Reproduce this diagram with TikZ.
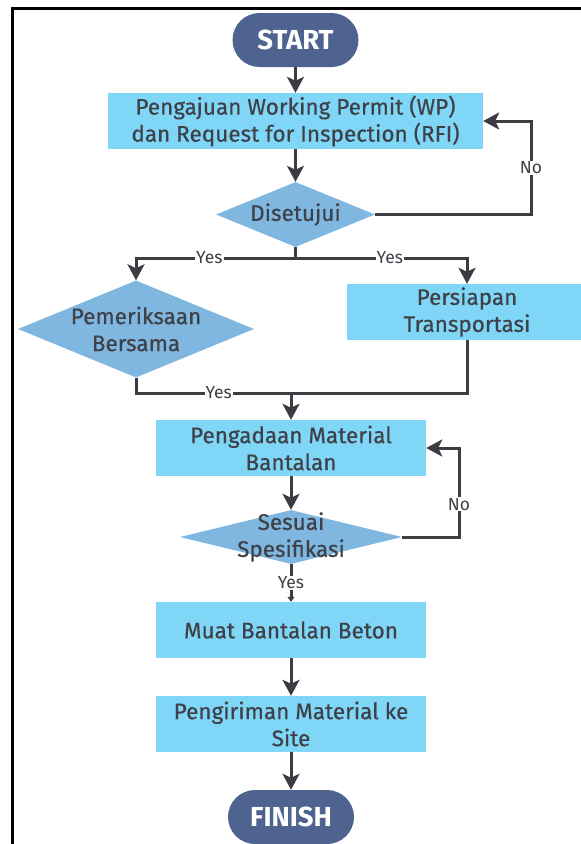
\documentclass[tikz,border=0pt]{standalone}
\usepackage{fontspec}
\setmainfont{Fira Sans}
\newfontfamily\medfont{Fira Sans}[FakeBold=0.5]
\usetikzlibrary{shapes.geometric,arrows.meta}
\definecolor{pill}{RGB}{78,99,143}
\definecolor{boxc}{RGB}{128,214,247}
\definecolor{diac}{RGB}{127,183,224}
\definecolor{txt}{RGB}{62,65,72}
\definecolor{linec}{RGB}{59,61,66}
\tikzset{
  pillst/.style={rectangle, rounded corners=27pt, fill=pill, text=white,
    font=\fontsize{27.5}{30}\selectfont\bfseries, minimum width=126pt, minimum height=54pt, inner sep=0pt},
  procst/.style={rectangle, fill=boxc, text=txt, font=\medfont\fontsize{22.5}{27}\selectfont,
    align=center, inner sep=0pt},
  decst/.style={diamond, fill=diac, inner sep=0pt},
  dtext/.style={text=txt, font=\medfont\fontsize{22.5}{27}\selectfont, align=center},
  arr/.style={draw=linec, line width=3pt, -{Stealth[length=16pt,width=17pt,inset=4pt]}},
  smallarr/.style={draw=linec, line width=3pt, -{Triangle[length=5pt,width=7pt]}},
  ln/.style={draw=linec, line width=3pt},
  lbl/.style={fill=white, text=txt, font=\fontsize{17.5}{20}\selectfont, inner sep=1pt}
}
\begin{document}
\begin{tikzpicture}[x=1pt,y=-1pt]
\useasboundingbox (0,0) rectangle (581,844);
\draw[line width=3pt, black] (12,848) -- (12,8) -- (585,8);

\node[pillst] (start) at (295.5,40) {START};
\node[procst, minimum width=375pt, minimum height=56pt] (wp) at (295.5,121)
  {Pengajuan Working Permit (WP)\\dan Request for Inspection (RFI)};
\node[decst, minimum width=159pt, minimum height=65pt,
  label={[dtext]center:Disetujui}] (d1) at (295.5,214.5) {};
\node[decst, minimum width=236pt, minimum height=97pt,
  label={[dtext]center:{Pemeriksaan\\Bersama}}] (pem) at (136,329) {};
\node[procst, minimum width=240pt, minimum height=56pt] (pers) at (467,312)
  {Persiapan\\Transportasi};
\node[procst, minimum width=270pt, minimum height=56pt] (peng) at (291,448)
  {Pengadaan Material\\Bantalan};
\node[decst, minimum width=222pt, minimum height=54pt,
  label={[dtext]center:{Sesuai\\Spesifikasi}}] (ses) at (291,537) {};
\node[procst, minimum width=270pt, minimum height=56pt] (muat) at (291,630)
  {Muat Bantalan Beton};
\node[procst, minimum width=270pt, minimum height=56pt] (kirim) at (291,724)
  {Pengiriman Material ke\\Site};
\node[pillst] (finish) at (291,817) {FINISH};

\coordinate (noA) at (531,0);
\coordinate (noB) at (459,0);
\coordinate (split) at (295.5,258);
\coordinate (merge) at (291,393);

\draw[arr] (start) -- (wp);
\draw[arr] (wp) -- (d1);
\draw[arr] (d1.east) -- (d1.east -| noA) -- node[lbl]{No} (wp.east -| noA) -- (wp.east);
\draw[ln] (d1.south) -- (split);
\draw[arr] (split) -- node[lbl, pos=0.54]{Yes} (split -| pem.north) -- (pem.north);
\draw[arr] (split) -- node[lbl, pos=0.55]{Yes} (split -| pers.north) -- (pers.north);
\draw[ln] (pem.south) |- node[lbl, pos=0.625]{Yes} (pers.south |- merge) -- (pers.south);
\draw[arr] (merge) -- (peng.north);
\draw[arr] (peng) -- (ses);
\draw[arr] (ses.east) -- (ses.east -| noB) -- node[lbl, pos=0.37]{No} (peng.east -| noB) -- (peng.east);
\draw[smallarr] (ses.south) -- node[lbl, pos=0.5]{Yes} (muat.north);
\draw[arr] (muat) -- (kirim);
\draw[arr] (kirim) -- (finish);
\end{tikzpicture}
\end{document}
